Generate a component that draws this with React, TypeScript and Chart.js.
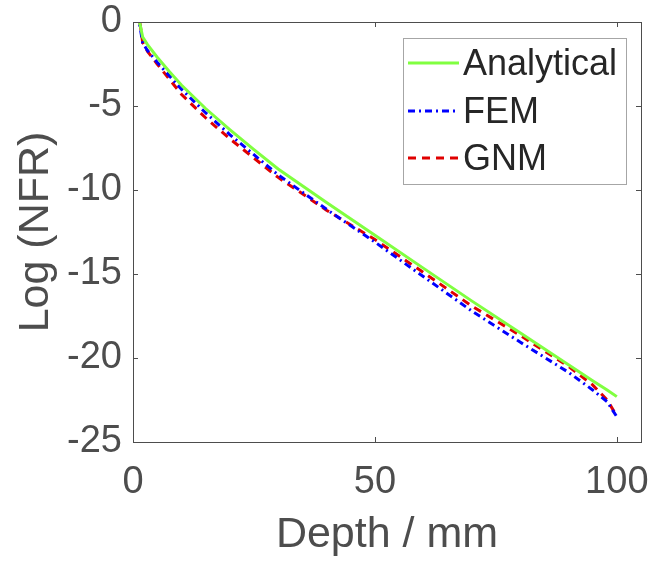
import React, { useEffect, useRef } from 'react';
import { Chart, registerables } from 'chart.js';

Chart.register(...registerables);

const depth = [1, 2, 3, 5, 7.5, 10, 15, 20, 25, 30, 40, 50, 60, 70, 80, 90, 95, 98, 100];
const analytical = [0.5, -0.9, -1.35, -2.1, -2.95, -3.75, -5.15, -6.4, -7.6, -8.75, -10.75, -12.7, -14.65, -16.6, -18.5, -20.4, -21.35, -21.9, -22.3];
const fem = [0.5, -1.25, -1.7, -2.4, -3.2, -4.0, -5.4, -6.7, -7.9, -9.1, -11.15, -13.1, -15.15, -17.2, -19.05, -20.85, -21.9, -22.6, -23.5];
const gnm = [0.8, -1.2, -1.75, -2.5, -3.4, -4.3, -5.7, -6.95, -8.1, -9.25, -11.2, -12.95, -14.9, -16.9, -18.65, -20.5, -21.6, -22.5, -23.45];

const seriesLabels = ['Analytical', 'FEM', 'GNM'];
const xTicks = [0, 50, 100];
const yTicks = [0, -5, -10, -15, -20, -25];
const xTitle = 'Depth / mm';
const yTitle = 'Log (NFR)';

const AXIS_COLOR = '#4d4d4d';
const FONT = '"Liberation Sans", Arial, Helvetica, sans-serif';

const framePlugin = {
  id: 'frameAndLegend',
  afterDatasetsDraw(chart: any) {
    const { ctx, chartArea: a, scales } = chart;
    const xs = scales.x;
    const ys = scales.y;
    ctx.save();
    ctx.strokeStyle = AXIS_COLOR;
    ctx.lineWidth = 1;
    ctx.strokeRect(Math.round(a.left) + 0.5, Math.round(a.top) + 0.5, Math.round(a.right - a.left), Math.round(a.bottom - a.top));
    const tl = 5;
    ctx.beginPath();
    xTicks.forEach((v) => {
      const px = Math.round(xs.getPixelForValue(v)) + 0.5;
      ctx.moveTo(px, a.bottom);
      ctx.lineTo(px, a.bottom - tl);
      ctx.moveTo(px, a.top);
      ctx.lineTo(px, a.top + tl);
    });
    yTicks.forEach((v) => {
      const py = Math.round(ys.getPixelForValue(v)) + 0.5;
      ctx.moveTo(a.left, py);
      ctx.lineTo(a.left + tl, py);
      ctx.moveTo(a.right, py);
      ctx.lineTo(a.right - tl, py);
    });
    ctx.stroke();

    // legend
    const bx = 403.5, by = 38.5, bw = 223, bh = 146;
    ctx.fillStyle = '#ffffff';
    ctx.fillRect(bx, by, bw, bh);
    ctx.strokeStyle = '#a6a6a6';
    ctx.lineWidth = 1;
    ctx.strokeRect(bx, by, bw, bh);
    const rows = [63, 111, 158];
    ctx.font = `36px ${FONT}`;
    ctx.textBaseline = 'middle';
    ctx.textAlign = 'left';
    chart.data.datasets.forEach((ds: any, i: number) => {
      const y = rows[i];
      ctx.save();
      ctx.strokeStyle = ds.borderColor;
      ctx.lineWidth = ds.borderWidth;
      ctx.setLineDash(ds.borderDash || []);
      ctx.beginPath();
      ctx.moveTo(408, y);
      ctx.lineTo(459, y);
      ctx.stroke();
      ctx.restore();
      ctx.fillStyle = '#262626';
      ctx.fillText(ds.label, 463, y + 2);
    });
    ctx.restore();
  },
};

export default function App() {
  const ref = useRef<HTMLCanvasElement>(null);
  useEffect(() => {
    const canvas = ref.current;
    if (!canvas) return;
    const mk = (ys: number[]) => depth.map((d, i) => ({ x: d, y: ys[i] }));
    const chart = new Chart(canvas, {
      type: 'line',
      data: {
        datasets: [
          { label: seriesLabels[0], data: mk(analytical), borderColor: '#80ff40', borderWidth: 3, pointRadius: 0, tension: 0, fill: false },
          { label: seriesLabels[1], data: mk(fem), borderColor: '#0000ff', borderWidth: 3, borderDash: [7, 4, 2, 4], pointRadius: 0, tension: 0, fill: false },
          { label: seriesLabels[2], data: mk(gnm), borderColor: '#e00000', borderWidth: 3, borderDash: [8, 6], pointRadius: 0, tension: 0, fill: false },
        ],
      },
      options: {
        responsive: false,
        animation: false,
        layout: { padding: { left: 0, right: 11, top: 22, bottom: 0 } },
        plugins: { legend: { display: false }, tooltip: { enabled: false } },
        scales: {
          x: {
            type: 'linear',
            min: 0,
            max: 105,
            grid: { display: false, drawTicks: false },
            border: { display: false },
            afterBuildTicks: (s: any) => { s.ticks = xTicks.map((v) => ({ value: v })); },
            afterFit: (s: any) => { s.height = 123; s.paddingLeft = 0; s.paddingRight = 0; },
            ticks: { color: AXIS_COLOR, font: { family: FONT, size: 38 }, padding: 18, maxRotation: 0, autoSkip: false },
            title: { display: true, text: xTitle, color: AXIS_COLOR, font: { family: FONT, size: 43, lineHeight: 1.2 }, padding: { top: 0, bottom: 4 } },
          },
          y: {
            type: 'linear',
            min: -25,
            max: 0,
            grid: { display: false, drawTicks: false },
            border: { display: false },
            afterBuildTicks: (s: any) => { s.ticks = yTicks.map((v) => ({ value: v })); },
            afterFit: (s: any) => { s.width = 133; s.paddingTop = 0; s.paddingBottom = 0; },
            ticks: { color: AXIS_COLOR, font: { family: FONT, size: 38 }, padding: 11 },
            title: { display: true, text: yTitle, color: AXIS_COLOR, font: { family: FONT, size: 43, lineHeight: 1.2 }, padding: { top: 10, bottom: 0 } },
          },
        },
      },
      plugins: [framePlugin],
    });
    return () => chart.destroy();
  }, []);
  return (
    <div style={{ position: 'fixed', left: 0, top: 0, width: 652, height: 565, background: '#fff' }}>
      <canvas ref={ref} width={652} height={565} style={{ display: 'block' }} />
    </div>
  );
}
